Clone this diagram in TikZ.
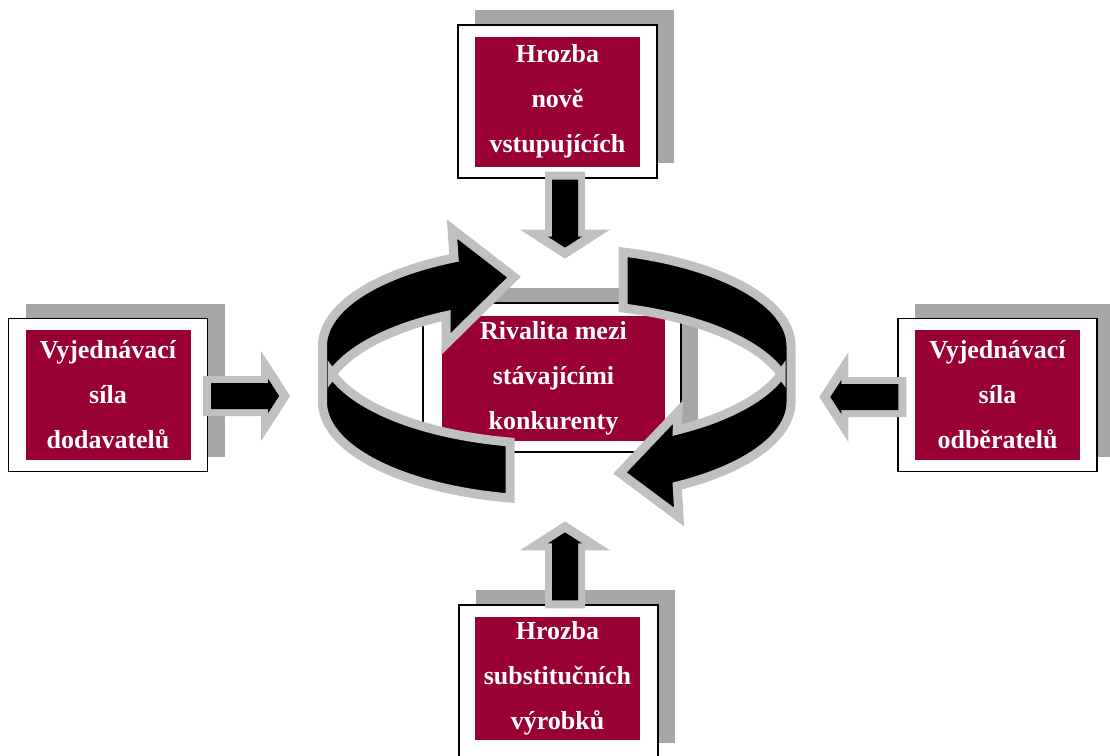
\documentclass[tikz,border=0pt]{standalone}
\usepackage{fontspec}
\setmainfont{Liberation Serif}
\usetikzlibrary{shadows,calc}

\definecolor{forcered}{RGB}{153,0,51}
\definecolor{shadowgray}{RGB}{166,166,166}
\definecolor{arrowgray}{RGB}{192,192,192}

% ring: a band seen from above; its top and bottom rims are ellipses
% of radii \rrx, \rry, shifted by -\rh and +\rh from the centre
\def\rcx{556.75}
\def\rcy{374}
\def\rrx{234.25}
\def\rry{98}
\def\rh{28}

\tikzset{
  frame/.style={draw=black, line width=1.3pt, fill=white,
    minimum width=199pt, minimum height=153pt, inner sep=0pt,
    general shadow={fill=shadowgray, shadow xshift=17pt, shadow yshift=15pt}},
  force/.style={fill=forcered, text=white, minimum width=165pt,
    minimum height=130pt, inner sep=0pt, align=center,
    font=\bfseries\fontsize{26}{45}\selectfont},
  ringarrow/.style={fill=black, draw=arrowgray, line width=9pt,
    line join=miter, miter limit=4},
  % grey block arrow with a slimmer black arrow on top, pointing along +x
  forcearrow/.pic={
    \fill[arrowgray] (0,-20) -- (58,-20) -- (58,-45) -- (87,0)
      -- (58,45) -- (58,20) -- (0,20) -- cycle;
    \fill[black] (8,-13) -- (65,-13) -- (65,-17) -- (76,0)
      -- (65,17) -- (65,13) -- (8,13) -- cycle;
  }
}

\begin{document}
\begin{tikzpicture}[x=1pt, y=-1pt]
  \useasboundingbox (0,0) rectangle (1110,755);
  \clip (0,0) rectangle (1110,755);

  % the four outer forces
  \node[frame] (f-entrants) at (557.5,101.5) {};
  \node[force] (entrants) at (f-entrants.center) {Hrozba\\nově\\vstupujících};

  \node[frame] (f-suppliers) at (108,395) {};
  \node[force] (suppliers) at (f-suppliers.center) {Vyjednávací\\síla\\dodavatelů};

  \node[frame] (f-buyers) at (997.5,395) {};
  \node[force] (buyers) at (f-buyers.center) {Vyjednávací\\síla\\odběratelů};

  \node[frame] (f-subst) at (558.5,681.5) {};
  \node[force, minimum height=123pt] (subst) at (557.5,678.5) {Hrozba\\substitučních\\výrobků};

  % central box
  \node[frame, minimum width=258pt, minimum height=149pt,
    general shadow={fill=shadowgray, shadow xshift=15pt, shadow yshift=14pt}]
    (f-rivalry) at (552,377.5) {};
  \node[force, minimum width=223pt, minimum height=125pt]
    (rivalry) at (553.5,378.5) {Rivalita mezi\\stávajícími\\konkurenty};

  % block arrows pointing towards the centre
  \pic[rotate=0]   at ($(f-suppliers.east)+(-5,1)$) {forcearrow};
  \pic[rotate=180] at ($(f-buyers.west)+(9,2)$)     {forcearrow};
  \pic[rotate=-90] at ($(f-entrants.south)+(7.5,-7)$) {forcearrow};
  \pic[rotate=90]  at ($(f-subst.north)+(6.5,4)$)  {forcearrow};

  % circular arrows round the central box
  % left one: from the front, round the left side, to the back
  \draw[ringarrow]
    plot[domain=101.5:180, samples=50] ({\rcx+\rrx*cos(\x)},{\rcy+\rh+\rry*sin(\x)})
    -- plot[domain=180:244, samples=50] ({\rcx+\rrx*cos(\x)},{\rcy-\rh+\rry*sin(\x)})
    -- (452,229) -- (514,277) -- (446,344)
    -- plot[domain=241.8:196.6, samples=40] ({\rcx+\rrx*cos(\x)},{\rcy+\rh+\rry*sin(\x)})
    -- plot[domain=163.4:101.5, samples=40] ({\rcx+\rrx*cos(\x)},{\rcy-\rh+\rry*sin(\x)})
    -- cycle;
  % right one: from the back, round the right side, to the front
  \draw[ringarrow]
    plot[domain=286.43:360, samples=50] ({\rcx+\rrx*cos(\x)},{\rcy-\rh+\rry*sin(\x)})
    -- plot[domain=0:59.05, samples=50] ({\rcx+\rrx*cos(\x)},{\rcy+\rh+\rry*sin(\x)})
    -- (679,517) -- (620,473) -- (678,412)
    -- plot[domain=59.05:16.6, samples=40] ({\rcx+\rrx*cos(\x)},{\rcy-\rh+\rry*sin(\x)})
    -- plot[domain=343.4:286.43, samples=40] ({\rcx+\rrx*cos(\x)},{\rcy+\rh+\rry*sin(\x)})
    -- cycle;
\end{tikzpicture}
\end{document}
